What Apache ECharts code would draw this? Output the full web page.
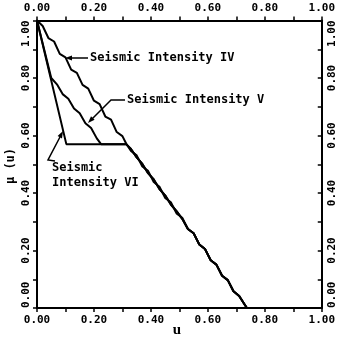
<!DOCTYPE html>
<html><head><meta charset="utf-8">
<script src="https://cdn.jsdelivr.net/npm/echarts@6/dist/echarts.min.js"></script>
<style>html,body{margin:0;padding:0;background:#fff}#c{width:338px;height:339px}</style>
</head><body><div id="c"></div><script>
// Seismic Intensity IV
const uIV  = [0, 0.02, 0.04, 0.06, 0.08, 0.10, 0.12, 0.14, 0.16, 0.18, 0.20, 0.22, 0.24, 0.26, 0.28, 0.30, 0.313, 0.33, 0.35, 0.37, 0.39, 0.41, 0.43, 0.45, 0.47, 0.49, 0.51, 0.53, 0.55, 0.57, 0.59, 0.61, 0.63, 0.65, 0.67, 0.69, 0.71, 0.737];
const muIV = [1.000, 0.981, 0.939, 0.927, 0.884, 0.872, 0.829, 0.818, 0.776, 0.763, 0.721, 0.709, 0.666, 0.655, 0.612, 0.598, 0.572, 0.546, 0.531, 0.492, 0.477, 0.438, 0.422, 0.383, 0.368, 0.329, 0.314, 0.275, 0.260, 0.221, 0.205, 0.166, 0.151, 0.112, 0.097, 0.058, 0.042, 0.000];
// Seismic Intensity V
const uV  = [0, 0.05, 0.07, 0.09, 0.11, 0.13, 0.15, 0.17, 0.19, 0.21, 0.225, 0.313, 0.33, 0.35, 0.37, 0.39, 0.41, 0.43, 0.45, 0.47, 0.49, 0.51, 0.53, 0.55, 0.57, 0.59, 0.61, 0.63, 0.65, 0.67, 0.69, 0.71, 0.737];
const muV = [1.000, 0.800, 0.778, 0.744, 0.728, 0.694, 0.677, 0.643, 0.626, 0.590, 0.570, 0.570, 0.553, 0.524, 0.501, 0.469, 0.447, 0.414, 0.392, 0.360, 0.337, 0.310, 0.275, 0.260, 0.221, 0.205, 0.166, 0.151, 0.112, 0.097, 0.058, 0.042, 0.000];
// Seismic Intensity VI
const uVI  = [0, 0.103, 0.313, 0.33, 0.35, 0.37, 0.39, 0.41, 0.43, 0.45, 0.47, 0.49, 0.51, 0.53, 0.55, 0.57, 0.59, 0.61, 0.63, 0.65, 0.67, 0.69, 0.71, 0.737];
const muVI = [1.000, 0.570, 0.570, 0.553, 0.524, 0.501, 0.469, 0.447, 0.414, 0.392, 0.360, 0.337, 0.310, 0.275, 0.260, 0.221, 0.205, 0.166, 0.151, 0.112, 0.097, 0.058, 0.042, 0.000];

const seriesNames = ['Seismic Intensity IV', 'Seismic Intensity V', 'Seismic Intensity VI'];
const xTitle = 'u';
const yTitle = 'μ (u)';

const mono = "'DejaVu Sans Mono', monospace";
function pairs(xs, ys){ return xs.map((x,i)=>[x, ys[i]]); }

function axis(extra, inside, labelExtra){
  return Object.assign({
    type:'value', min:0, max:1, interval:0.2,
    axisLine:{show:true, onZero:false, lineStyle:{color:'#000', width:2}},
    axisTick:{show:true, inside:inside, length:4, lineStyle:{color:'#000', width:1.5}},
    minorTick:{show:true, splitNumber:2, length:4, lineStyle:{color:'#000', width:1.5}},
    splitLine:{show:false},
    axisLabel:Object.assign({formatter:v=>v.toFixed(2), fontFamily:mono, fontSize:11, fontWeight:'bold', color:'#000'}, labelExtra)
  }, extra);
}

const chart = echarts.init(document.getElementById('c'), null, {renderer:'canvas'});
const lineSeries = (name, xs, ys) => ({
  name, type:'line', data:pairs(xs, ys), showSymbol:false, symbol:'none',
  lineStyle:{color:'#000', width:2}, xAxisIndex:0, yAxisIndex:0, animation:false, z:3
});

const txt = {fontFamily:mono, fontSize:12, fontWeight:'bold', fill:'#000'};
chart.setOption({
  animation:false,
  backgroundColor:'#fff',
  grid:{left:37, right:13.5, top:20.5, bottom:31, containLabel:false},
  xAxis:[
    axis({position:'bottom'}, false, {margin:7}),
    axis({position:'top'}, false, {margin:7})
  ],
  yAxis:[
    axis({position:'left'}, false, {rotate:90, margin:5, alignMinLabel:'left', alignMaxLabel:'right'}),
    axis({position:'right'}, true, {rotate:90, margin:5, alignMinLabel:'left', alignMaxLabel:'right'})
  ],
  series:[
    lineSeries(seriesNames[0], uIV, muIV),
    lineSeries(seriesNames[1], uV, muV),
    lineSeries(seriesNames[2], uVI, muVI)
  ],
  graphic:[
    {type:'text', x:177, y:330, style:{text:xTitle, fontFamily:"'Liberation Serif', serif", fontSize:15, fontWeight:'bold', fill:'#000', align:'center', verticalAlign:'middle'}},
    {type:'text', x:11, y:166, rotation:Math.PI/2, style:Object.assign({text:yTitle, align:'center', verticalAlign:'middle'}, txt)},
    {type:'text', x:90, y:58, style:Object.assign({text:seriesNames[0], align:'left', verticalAlign:'middle'}, txt)},
    {type:'text', x:127, y:100, style:Object.assign({text:seriesNames[1], align:'left', verticalAlign:'middle'}, txt)},
    {type:'text', x:52, y:168, style:Object.assign({text:'Seismic', align:'left', verticalAlign:'middle'}, txt)},
    {type:'text', x:52, y:183, style:Object.assign({text:'Intensity VI', align:'left', verticalAlign:'middle'}, txt)},
    {type:'polyline', shape:{points:[[71,58],[88,58]]}, style:{stroke:'#000', lineWidth:1.5, fill:null}},
    {type:'polygon', shape:{points:[[65,58],[72,55.5],[72,60.5]]}, style:{fill:'#000'}},
    {type:'polyline', shape:{points:[[125,100],[111,100],[92,119]]}, style:{stroke:'#000', lineWidth:1.5, fill:null}},
    {type:'polygon', shape:{points:[[88,123],[94.6,119.7],[91,116.3]]}, style:{fill:'#000'}},
    {type:'polyline', shape:{points:[[55,161],[48,160],[60,137]]}, style:{stroke:'#000', lineWidth:1.5, fill:null}},
    {type:'polygon', shape:{points:[[63,131],[62,138.4],[57.6,136.1]]}, style:{fill:'#000'}}
  ]
});
</script></body></html>
